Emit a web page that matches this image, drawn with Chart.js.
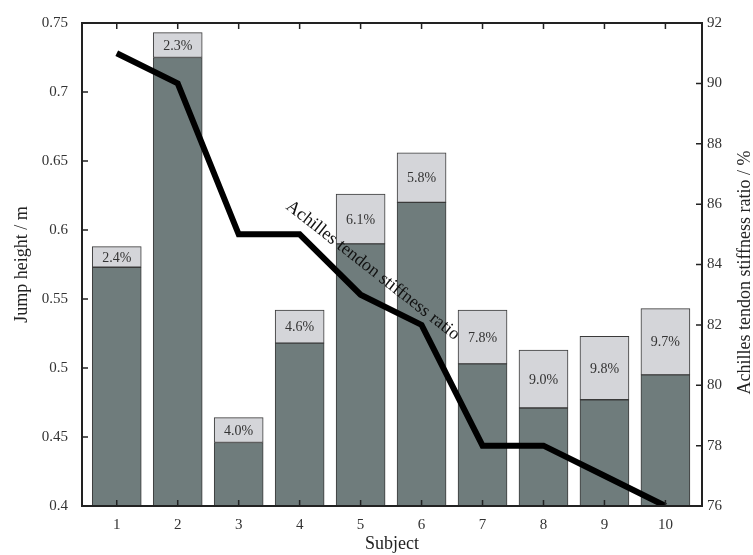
<!DOCTYPE html>
<html lang="en">
<head>
<meta charset="utf-8">
<title>Jump height and Achilles tendon stiffness</title>
<style>
  body { margin: 0; background: #fff; }
  #wrap { width: 753px; height: 555px; }
</style>
</head>
<body>
<div id="wrap">
  <canvas id="chart" width="753" height="555"></canvas>
</div>

<script src="https://cdn.jsdelivr.net/npm/chart.js"></script>
<script>

  // values
  var subjects = [1, 2, 3, 4, 5, 6, 7, 8, 9, 10];
  var baseHeight = [0.573, 0.725, 0.446, 0.518, 0.590, 0.620, 0.503, 0.471, 0.477, 0.495];
  var totalHeight = [0.588, 0.743, 0.464, 0.542, 0.626, 0.656, 0.542, 0.513, 0.523, 0.543];
  var gainLabels = ["2.4%", "2.3%", "4.0%", "4.6%", "6.1%", "5.8%", "7.8%", "9.0%", "9.8%", "9.7%"];
  var stiffnessRatio = [91, 90, 85, 85, 83, 82, 78, 78, 77, 76];

  var leftTicks = [0.4, 0.45, 0.5, 0.55, 0.6, 0.65, 0.7, 0.75];
  var rightTicks = [76, 78, 80, 82, 84, 86, 88, 90, 92];

  var gainPart = totalHeight.map(function (t, i) { return +(t - baseHeight[i]).toFixed(3); });

  Chart.defaults.font.family = "'Liberation Serif', 'DejaVu Serif', serif";
  Chart.defaults.color = "#333";

  function setTicks(list) {
    return function (scale) {
      scale.ticks = list.map(function (v) { return { value: v }; });
    };
  }

  // frame, inward tick marks, labels in the bars, line caption, right title
  var decorations = {
    id: "decorations",
    afterDatasetsDraw: function (chart) {
      var ctx = chart.ctx;
      var area = chart.chartArea;
      var xs = chart.scales.x, ys = chart.scales.y, y2 = chart.scales.y2;

      // percentage text in the light part of each bar
      var meta = chart.getDatasetMeta(2);
      ctx.save();
      ctx.font = "14px 'Liberation Serif', serif";
      ctx.fillStyle = "#333";
      ctx.textAlign = "center";
      ctx.textBaseline = "middle";
      meta.data.forEach(function (bar, i) {
        var p = bar.getProps(["x", "y", "base"], true);
        ctx.fillText(gainLabels[i], p.x, (p.y + p.base) / 2 + 1);
      });
      ctx.restore();

      // caption along the line
      ctx.save();
      ctx.font = "18px 'Liberation Serif', serif";
      ctx.fillStyle = "#111";
      ctx.textAlign = "center";
      ctx.textBaseline = "middle";
      ctx.translate(xs.getPixelForValue(5.2), y2.getPixelForValue(83.8));
      ctx.rotate(38 * Math.PI / 180);
      ctx.fillText("Achilles tendon stiffness ratio", 0, 0);
      ctx.restore();

      // frame
      ctx.save();
      ctx.strokeStyle = "#222";
      ctx.lineWidth = 2;
      ctx.strokeRect(area.left, area.top, area.right - area.left, area.bottom - area.top);

      // inward ticks
      ctx.lineWidth = 1.5;
      var len = 6;
      ctx.beginPath();
      subjects.forEach(function (s) {
        var x = xs.getPixelForValue(s);
        ctx.moveTo(x, area.bottom); ctx.lineTo(x, area.bottom - len);
        ctx.moveTo(x, area.top); ctx.lineTo(x, area.top + len);
      });
      leftTicks.forEach(function (v) {
        var y = ys.getPixelForValue(v);
        ctx.moveTo(area.left, y); ctx.lineTo(area.left + len, y);
      });
      rightTicks.forEach(function (v) {
        var y = y2.getPixelForValue(v);
        ctx.moveTo(area.right, y); ctx.lineTo(area.right - len, y);
      });
      ctx.stroke();
      ctx.restore();

      // right axis title, read bottom to top
      ctx.save();
      ctx.font = "18px 'Liberation Serif', serif";
      ctx.fillStyle = "#222";
      ctx.textAlign = "center";
      ctx.textBaseline = "middle";
      ctx.translate(745, (area.top + area.bottom) / 2 + 8);
      ctx.rotate(-Math.PI / 2);
      ctx.fillText("Achilles tendon stiffness ratio / %", 0, 0);
      ctx.restore();
    }
  };

  new Chart(document.getElementById("chart"), {
    data: {
      datasets: [
        {
          type: "line",
          label: "Achilles tendon stiffness ratio",
          data: subjects.map(function (s, i) { return { x: s, y: stiffnessRatio[i] }; }),
          yAxisID: "y2",
          borderColor: "#000",
          borderWidth: 6,
          pointRadius: 0,
          tension: 0,
          order: 0
        },
        {
          type: "bar",
          label: "Jump height",
          data: subjects.map(function (s, i) { return { x: s, y: baseHeight[i] }; }),
          yAxisID: "y",
          backgroundColor: "#6f7c7c",
          borderColor: "#3a3a3a",
          borderWidth: 1,
          borderSkipped: false,
          barThickness: 49,
          stack: "h",
          order: 1
        },
        {
          type: "bar",
          label: "Gain",
          data: subjects.map(function (s, i) { return { x: s, y: gainPart[i] }; }),
          yAxisID: "y",
          backgroundColor: "#d4d5d9",
          borderColor: "#3a3a3a",
          borderWidth: 1,
          borderSkipped: false,
          barThickness: 49,
          stack: "h",
          order: 1
        }
      ]
    },
    options: {
      responsive: false,
      animation: false,
      layout: { padding: { top: 14, left: 0, right: 0, bottom: 0 } },
      plugins: {
        legend: { display: false },
        tooltip: { enabled: false }
      },
      scales: {
        x: {
          type: "linear",
          min: 0.43,
          max: 10.6,
          stacked: true,
          offset: false,
          afterBuildTicks: setTicks(subjects),
          afterFit: function (s) { s.height = 49; },
          grid: { display: false, drawTicks: false },
          border: { display: false },
          ticks: { font: { size: 15 }, padding: 10, color: "#333", maxRotation: 0 },
          title: { display: true, text: "Subject", font: { size: 18 }, color: "#222", padding: { top: 0, bottom: 0 } }
        },
        y: {
          position: "left",
          min: 0.4,
          max: 0.75,
          stacked: true,
          afterBuildTicks: setTicks(leftTicks),
          afterFit: function (s) { s.width = 82; },
          grid: { display: false, drawTicks: false },
          border: { display: false },
          ticks: {
            font: { size: 15 },
            padding: 14,
            color: "#333",
            callback: function (v) { return String(+Number(v).toFixed(2)); }
          },
          title: { display: true, text: "Jump height / m", font: { size: 18 }, color: "#222", padding: { top: 11, bottom: 0 } }
        },
        y2: {
          position: "right",
          min: 76,
          max: 92,
          afterBuildTicks: setTicks(rightTicks),
          afterFit: function (s) { s.width = 51; },
          grid: { display: false, drawTicks: false },
          border: { display: false },
          ticks: { font: { size: 15 }, padding: 5, color: "#333" }
        }
      }
    },
    plugins: [decorations]
  });

</script>
</body>
</html>
